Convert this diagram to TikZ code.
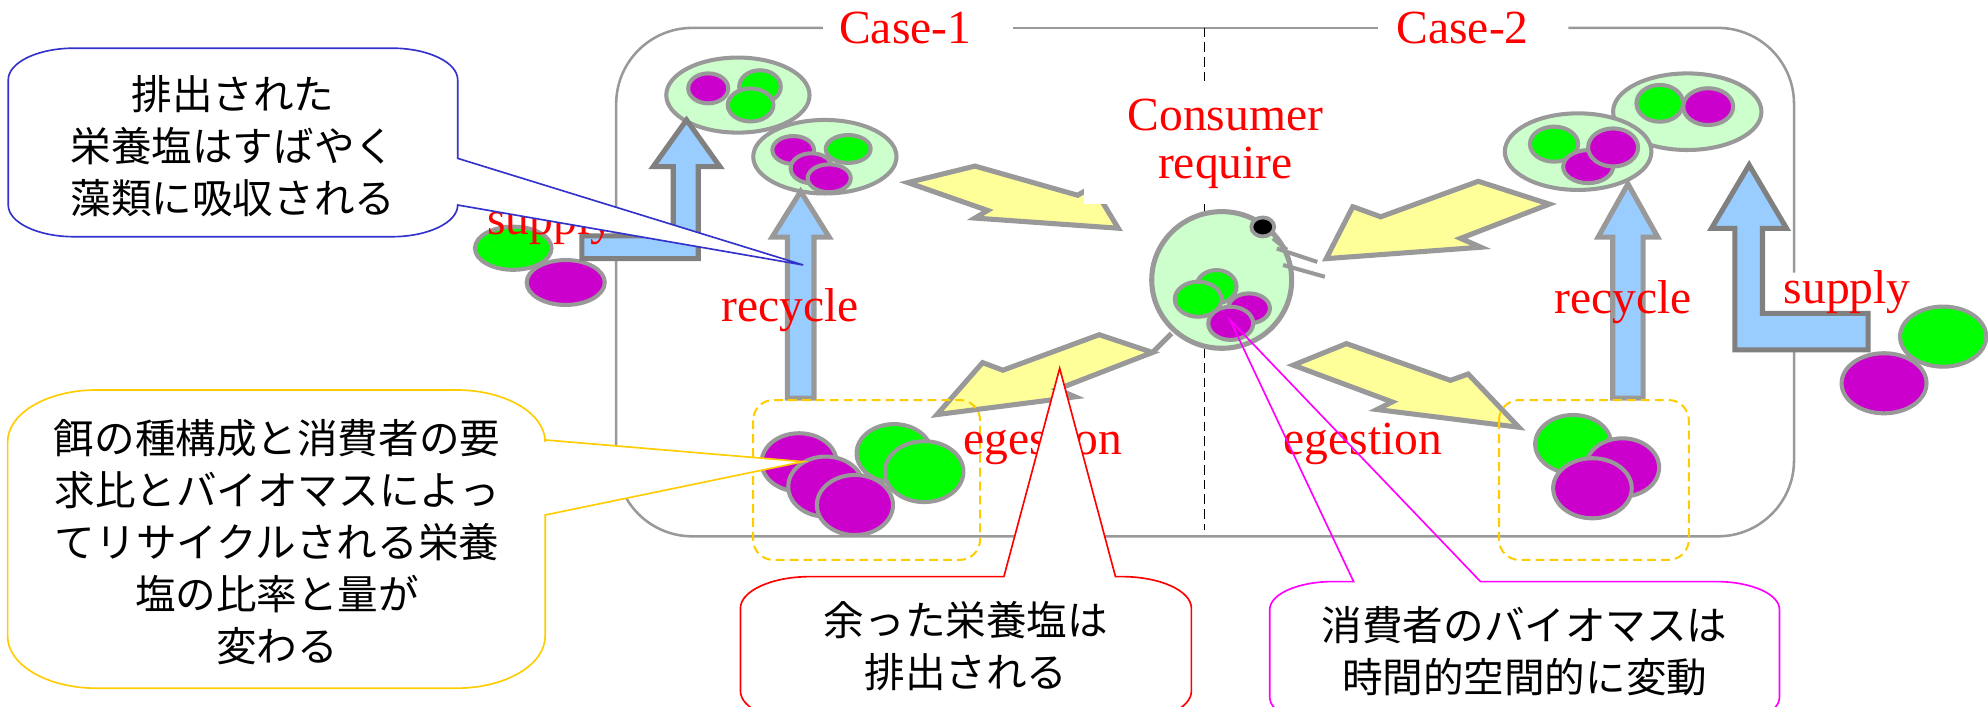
\documentclass[tikz,border=0pt]{standalone}
\usepackage{fontspec}
\setmainfont{Liberation Serif}
\newfontfamily\jpfont{Noto Sans CJK JP}
\definecolor{lineGray}{HTML}{999999}
\definecolor{darkGray}{HTML}{808080}
\definecolor{algaeGreen}{HTML}{CCFFCC}
\definecolor{nutGreen}{HTML}{00FF00}
\definecolor{nutPurple}{HTML}{CC00CC}
\definecolor{flowBlue}{HTML}{99CCFF}
\definecolor{flowYellow}{HTML}{FFFF99}
\definecolor{poolYellow}{HTML}{FFCC00}
\definecolor{noteBlue}{HTML}{3333CC}
\definecolor{notePink}{HTML}{FF00FF}

\begin{document}
\begin{tikzpicture}[x=1pt, y=-1pt, every node/.style={inner sep=0pt},
    lbl/.style={text=red, font=\fontsize{37.5}{38}\selectfont, anchor=base},
    note/.style={font=\jpfont\fontsize{32}{41}\selectfont, align=center},
    frameline/.style={draw=lineGray, line width=2pt},
    cell/.style={draw=lineGray, line width=3.2pt},
    algae/.style={cell, fill=algaeGreen},
    gdot/.style={cell, fill=nutGreen},
    mdot/.style={cell, fill=nutPurple},
    recyc/.style={draw=lineGray, line width=4pt, fill=flowBlue, line join=miter},
    supp/.style={draw=darkGray, line width=4pt, fill=flowBlue, line join=miter},
    flow/.style={draw=lineGray, line width=4pt, fill=flowYellow, line join=miter},
    pool/.style={draw=poolYellow, line width=1.6pt, dash pattern=on 7pt off 4pt, rounded corners=16},
    callout/.style={line width=1.3pt}]
  \useasboundingbox (0,0) rectangle (1568,557);
  \clip (0,0) rectangle (1568,557);

  \draw[frameline, rounded corners=60] (649,22) -- (486,22) -- (486,423) -- (1415,423) -- (1415,247);
  \draw[frameline, rounded corners=60] (1415,215) -- (1415,22) -- (1237,22);
  \draw[frameline] (1087,22) -- (799,22);
  \draw[black, line width=1.5pt, dash pattern=on 7.5pt off 4pt] (950,22) -- (950,418);

  \draw[gdot] (404.8,195.8) ellipse [x radius=30.2, y radius=17];
  \draw[mdot] (446.2,222.8) ellipse [x radius=30.8, y radius=17.7];

  \draw[algae] (582,75) ellipse [x radius=56.5, y radius=29.6];
  \draw[mdot] (558.6,69.7) ellipse [x radius=15.8, y radius=11.8];
  \draw[gdot] (599.4,68.4) ellipse [x radius=16.4, y radius=13];
  \draw[gdot] (592,82.8) ellipse [x radius=18, y radius=13];
  \draw[algae] (650.6,123.6) ellipse [x radius=56.5, y radius=29];
  \draw[mdot] (625.6,118.3) ellipse [x radius=16.4, y radius=11];
  \draw[gdot] (669,117.5) ellipse [x radius=17.7, y radius=11];
  \draw[mdot] (640,132.7) ellipse [x radius=16.4, y radius=11.8];
  \draw[mdot] (654,140.6) ellipse [x radius=17, y radius=11];

  \draw[algae] (1330.8,88.1) ellipse [x radius=58.5, y radius=30.2];
  \draw[gdot] (1309.1,81.5) ellipse [x radius=18.4, y radius=14.5];
  \draw[mdot] (1347.3,84.1) ellipse [x radius=19.7, y radius=14.5];
  \draw[algae] (1244.7,119.6) ellipse [x radius=57.8, y radius=30.2];
  \draw[gdot] (1225.7,113.7) ellipse [x radius=19, y radius=13.8];
  \draw[mdot] (1252.6,131.4) ellipse [x radius=19.7, y radius=13];
  \draw[mdot] (1272.3,116.3) ellipse [x radius=19.7, y radius=15];

  \draw[mdot] (1486,302.3) ellipse [x radius=33.5, y radius=23.7];
  \draw[gdot] (1532.6,265.5) ellipse [x radius=34, y radius=23.7];

  \draw[gdot] (705.2,357.5) ellipse [x radius=29.6, y radius=23];
  \draw[gdot] (728.9,372) ellipse [x radius=31, y radius=24];
  \draw[mdot] (630.3,364.7) ellipse [x radius=29.6, y radius=23];
  \draw[mdot] (651.3,383.8) ellipse [x radius=29.6, y radius=23.7];
  \draw[mdot] (674.3,398.3) ellipse [x radius=30, y radius=23.7];
  \draw[gdot] (1240.8,350.3) ellipse [x radius=30, y radius=23];
  \draw[mdot] (1279.6,368.7) ellipse [x radius=29, y radius=23];
  \draw[mdot] (1256,385.1) ellipse [x radius=31, y radius=23.7];

  \draw[supp] (459,186) -- (531,186) -- (531,131.4) -- (515.2,131.4) -- (541.5,94.6) -- (567.8,131.4)
    -- (550.7,131.4) -- (550.7,204) -- (459,204) -- cycle;
  \draw[recyc] (621,314) -- (621,187) -- (609,187) -- (631.5,151) -- (654,187) -- (642,187) -- (642,314) -- cycle;
  \draw[recyc] (1272,314) -- (1272,187) -- (1260.5,187) -- (1284,145) -- (1307.5,187) -- (1296,187) -- (1296,314) -- cycle;
  \draw[supp] (1368.3,276) -- (1368.3,180.1) -- (1349.9,180.1) -- (1379.6,130.1) -- (1409.1,180.1)
    -- (1390.1,180.1) -- (1390.1,247.1) -- (1473.5,247.1) -- (1473.5,276) -- cycle;

  \draw[flow] (716,144) -- (769,131) -- (850,154) -- (862,147) -- (882,180) -- (769,172) -- (779,166) -- cycle;
  \draw[flow] (739,327) -- (775,286) -- (791,292) -- (867,264) -- (909,278) -- (834,307) -- (848,313) -- cycle;
  \draw[flow] (1046,204) -- (1067,163) -- (1089,171) -- (1166,143) -- (1222,161) -- (1152,188) -- (1168,195) -- cycle;
  \draw[flow] (1020,288) -- (1062,271) -- (1144,300) -- (1158,295) -- (1198,337) -- (1086,323) -- (1098,317) -- cycle;

  \draw[pool] (594,315.5) rectangle (773,441.6);
  \draw[pool] (1182.3,315.5) rectangle (1332,441.6);

  \draw[cell, line width=4pt] (924,263) -- (909,278);
  \draw[cell, line width=4pt, fill=algaeGreen] (963.6,220.8) ellipse [x radius=55.2, y radius=53.9];
  \draw[gdot] (959.5,226.1) ellipse [x radius=15.8, y radius=13.1];
  \draw[gdot] (945,236) ellipse [x radius=18.4, y radius=13.8];
  \draw[mdot] (985.2,243.2) ellipse [x radius=16.4, y radius=11.8];
  \draw[mdot] (970.7,255) ellipse [x radius=17.7, y radius=13.1];
  \draw[cell] (1004,188) -- (1015,197);
  \draw[cell] (1007,196) -- (1039,206.6);
  \draw[cell] (1012,209) -- (1045,218.3);
  \draw[cell, line width=3pt, fill=black] (996,179) ellipse [x radius=9, y radius=7.5];

  \node[fill=white, minimum width=223, minimum height=94.6, text=red, align=center,
    font=\fontsize{37.5}{38}\selectfont] (cons) at (966.5,113.5) {Consumer\\require};
  \node[lbl] (c1) at (714,34) {Case-1};
  \node[lbl] (c2) at (1153.6,34) {Case-2};
  \node[lbl] (supL) at (434.4,185) {supply};
  \node[lbl] (supR) at (1457,239.2) {supply};
  \node[lbl] (recL) at (623,253.7) {recycle};
  \node[lbl] (recR) at (1280,247) {recycle};
  \node[lbl] (egL) at (822.7,358.8) {egestion};
  \node[lbl] (egR) at (1075,358.8) {egestion};

  \draw[callout, draw=noteBlue, fill=white] (361,124.9) -- (633.5,209) -- (361,161.7)
    arc[start angle=0, end angle=90, x radius=52, y radius=25] -- (58.5,186.7)
    arc[start angle=90, end angle=180, x radius=52, y radius=25] -- (6.5,63)
    arc[start angle=180, end angle=270, x radius=52, y radius=25] -- (309,38)
    arc[start angle=270, end angle=360, x radius=52, y radius=25] -- cycle;
  \node[note] (absorb) at (183.7,115.2) {排出された\\栄養塩はすばやく\\藻類に吸収される};

  \draw[callout, draw=poolYellow, fill=white] (430,347) -- (633.5,364.1) -- (430,406.2) -- (430,501.8)
    arc[start angle=0, end angle=90, x radius=70, y radius=41] -- (76,542.8)
    arc[start angle=90, end angle=180, x radius=70, y radius=41] -- (6,348.6)
    arc[start angle=180, end angle=270, x radius=70, y radius=41] -- (360,307.6)
    arc[start angle=270, end angle=360, x radius=70, y radius=41] -- cycle;
  \node[note] (ratio) at (218.5,427.3) {餌の種構成と消費者の要\\求比とバイオマスによっ\\てリサイクルされる栄養\\塩の比率と量が\\変わる};

  \draw[callout, draw=red, fill=white] (791.8,454.8) -- (835.8,290.5) -- (879.8,454.8) -- (884.7,454.8)
    arc[start angle=270, end angle=360, x radius=55, y radius=25] -- (939.7,545)
    arc[start angle=0, end angle=90, x radius=55, y radius=25] -- (639,570)
    arc[start angle=90, end angle=180, x radius=55, y radius=25] -- (584,479.8)
    arc[start angle=180, end angle=270, x radius=55, y radius=25] -- cycle;
  \node[note] (excess) at (761.9,509.7) {余った栄養塩は\\排出される};

  \draw[callout, draw=notePink] (1067.6,458.7) -- (970.2,252.4) -- (1167.7,458.7) -- (1353.5,458.7)
    arc[start angle=270, end angle=360, x radius=50, y radius=22] -- (1403.5,550)
    arc[start angle=0, end angle=90, x radius=50, y radius=22] -- (1051.5,572)
    arc[start angle=90, end angle=180, x radius=50, y radius=22] -- (1001.5,480.7)
    arc[start angle=180, end angle=270, x radius=50, y radius=22] -- cycle;
  \node[note] (vary) at (1202.5,513.6) {消費者のバイオマスは\\時間的空間的に変動};
\end{tikzpicture}
\end{document}
